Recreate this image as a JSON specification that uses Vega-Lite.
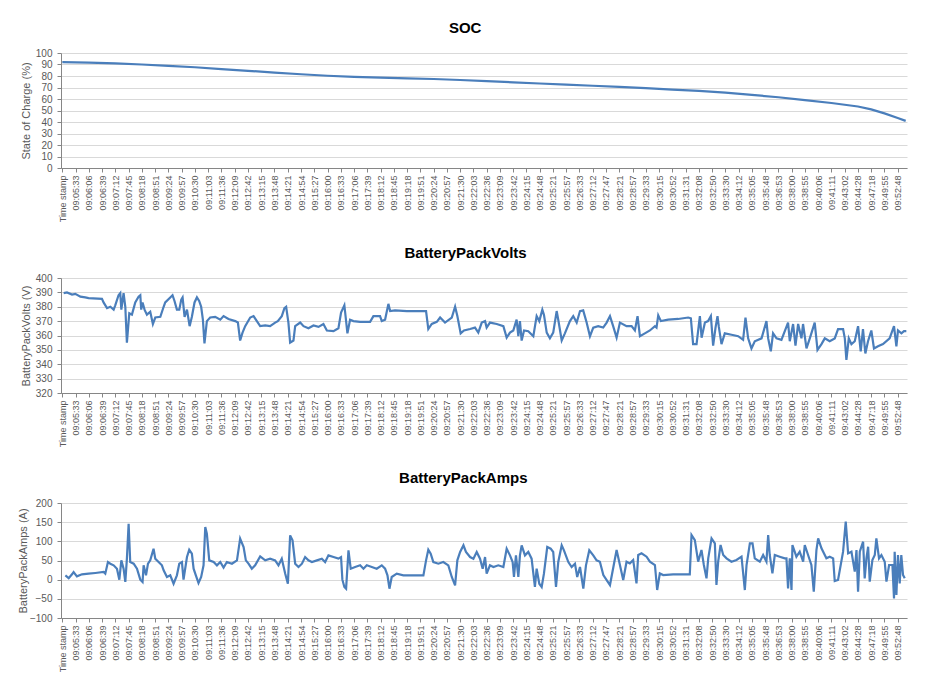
{
  "$schema": "https://vega.github.io/schema/vega-lite/v6.json",
  "background": "white",
  "padding": {"left": 17, "top": 21, "right": 10, "bottom": 5},
  "datasets": {
    "soc": [
      {"t": 0, "v": 92}, {"t": 2, "v": 91.6}, {"t": 4, "v": 91}, {"t": 6, "v": 90}, {"t": 8, "v": 88.8},
      {"t": 10, "v": 87.6}, {"t": 12, "v": 86}, {"t": 14, "v": 84.5}, {"t": 16, "v": 83}, {"t": 18, "v": 81.5},
      {"t": 20, "v": 80.2}, {"t": 22, "v": 79.3}, {"t": 24, "v": 78.6}, {"t": 26, "v": 78}, {"t": 28, "v": 77.4},
      {"t": 30, "v": 76.5}, {"t": 32, "v": 75.5}, {"t": 34, "v": 74.5}, {"t": 36, "v": 73.5}, {"t": 38, "v": 72.5},
      {"t": 40, "v": 71.5}, {"t": 42, "v": 70.5}, {"t": 44, "v": 69.5}, {"t": 46, "v": 68.2}, {"t": 48, "v": 67},
      {"t": 50, "v": 65.5}, {"t": 52, "v": 63.6}, {"t": 54, "v": 61.5}, {"t": 56, "v": 59}, {"t": 58, "v": 56.5},
      {"t": 60, "v": 53.5}, {"t": 61, "v": 51}, {"t": 62, "v": 47.5}, {"t": 63, "v": 43.5}, {"t": 63.6, "v": 41}
    ],
    "volts": [
      {"t": 0.1, "v": 389.5}, {"t": 0.35, "v": 390}, {"t": 0.73, "v": 388.5}, {"t": 0.98, "v": 389}, {"t": 1.36, "v": 387},
      {"t": 1.73, "v": 386.5}, {"t": 1.98, "v": 386}, {"t": 2.99, "v": 385.5}, {"t": 3.11, "v": 383}, {"t": 3.37, "v": 379},
      {"t": 3.62, "v": 380}, {"t": 3.87, "v": 378}, {"t": 3.99, "v": 381}, {"t": 4.24, "v": 388}, {"t": 4.37, "v": 389.5},
      {"t": 4.45, "v": 378}, {"t": 4.62, "v": 389.5}, {"t": 4.75, "v": 380}, {"t": 4.87, "v": 355}, {"t": 5.05, "v": 375.5},
      {"t": 5.25, "v": 374.5}, {"t": 5.5, "v": 383}, {"t": 5.75, "v": 387}, {"t": 5.88, "v": 388}, {"t": 5.95, "v": 378},
      {"t": 6.05, "v": 383}, {"t": 6.2, "v": 378}, {"t": 6.38, "v": 374.5}, {"t": 6.63, "v": 376.5}, {"t": 6.83, "v": 368},
      {"t": 7.01, "v": 372.5}, {"t": 7.39, "v": 373}, {"t": 7.64, "v": 380}, {"t": 7.76, "v": 383}, {"t": 8.14, "v": 386.5},
      {"t": 8.31, "v": 388}, {"t": 8.46, "v": 384}, {"t": 8.64, "v": 378}, {"t": 8.82, "v": 378}, {"t": 8.97, "v": 385},
      {"t": 9.07, "v": 386.5}, {"t": 9.22, "v": 373}, {"t": 9.4, "v": 378}, {"t": 9.6, "v": 366.5}, {"t": 9.77, "v": 373},
      {"t": 9.97, "v": 383}, {"t": 10.15, "v": 386.5}, {"t": 10.32, "v": 384}, {"t": 10.47, "v": 380}, {"t": 10.6, "v": 371},
      {"t": 10.72, "v": 354.5}, {"t": 10.9, "v": 370}, {"t": 11.15, "v": 372.5}, {"t": 11.53, "v": 373}, {"t": 11.91, "v": 371},
      {"t": 12.16, "v": 373.5}, {"t": 12.53, "v": 371.5}, {"t": 13.04, "v": 370}, {"t": 13.24, "v": 369}, {"t": 13.41, "v": 356.5},
      {"t": 13.59, "v": 362}, {"t": 13.79, "v": 366.5}, {"t": 14.17, "v": 372.5}, {"t": 14.42, "v": 373.5}, {"t": 14.67, "v": 370},
      {"t": 14.92, "v": 366.5}, {"t": 15.3, "v": 367}, {"t": 15.67, "v": 366.5}, {"t": 16.05, "v": 369}, {"t": 16.25, "v": 370},
      {"t": 16.55, "v": 373.5}, {"t": 16.75, "v": 379}, {"t": 16.88, "v": 380}, {"t": 17.05, "v": 369}, {"t": 17.18, "v": 355},
      {"t": 17.43, "v": 356.5}, {"t": 17.56, "v": 366.5}, {"t": 17.94, "v": 369}, {"t": 18.19, "v": 366.5}, {"t": 18.56, "v": 365},
      {"t": 18.94, "v": 367}, {"t": 19.32, "v": 366}, {"t": 19.69, "v": 368}, {"t": 19.95, "v": 363.5}, {"t": 20.45, "v": 363},
      {"t": 20.82, "v": 365}, {"t": 21.02, "v": 376}, {"t": 21.27, "v": 381}, {"t": 21.33, "v": 376}, {"t": 21.5, "v": 361.5},
      {"t": 21.7, "v": 371}, {"t": 21.95, "v": 370}, {"t": 22.46, "v": 369.5}, {"t": 23.21, "v": 369.5}, {"t": 23.46, "v": 373.5},
      {"t": 23.96, "v": 373.5}, {"t": 24.09, "v": 370}, {"t": 24.34, "v": 371}, {"t": 24.59, "v": 382}, {"t": 24.72, "v": 377},
      {"t": 25.09, "v": 377.5}, {"t": 25.98, "v": 377}, {"t": 27.43, "v": 377}, {"t": 27.6, "v": 364.5}, {"t": 27.86, "v": 368},
      {"t": 28.24, "v": 369.5}, {"t": 28.49, "v": 372.5}, {"t": 28.86, "v": 369}, {"t": 29.37, "v": 372.5}, {"t": 29.62, "v": 380},
      {"t": 29.79, "v": 373.5}, {"t": 30.04, "v": 361.5}, {"t": 30.29, "v": 363.5}, {"t": 30.75, "v": 364.5}, {"t": 31.12, "v": 365.5},
      {"t": 31.37, "v": 362}, {"t": 31.63, "v": 369}, {"t": 31.88, "v": 370}, {"t": 32, "v": 365.5}, {"t": 32.25, "v": 369},
      {"t": 32.76, "v": 368}, {"t": 33.26, "v": 366.5}, {"t": 33.51, "v": 358.5}, {"t": 33.76, "v": 362}, {"t": 34.01, "v": 363.5},
      {"t": 34.26, "v": 371}, {"t": 34.39, "v": 359.5}, {"t": 34.51, "v": 370}, {"t": 34.64, "v": 356.5}, {"t": 34.82, "v": 363.5},
      {"t": 35.14, "v": 363}, {"t": 35.52, "v": 359.5}, {"t": 35.77, "v": 373.5}, {"t": 35.97, "v": 370}, {"t": 36.2, "v": 378},
      {"t": 36.32, "v": 374.5}, {"t": 36.53, "v": 362}, {"t": 36.77, "v": 358}, {"t": 37.02, "v": 362}, {"t": 37.28, "v": 377},
      {"t": 37.4, "v": 371}, {"t": 37.66, "v": 356.5}, {"t": 37.9, "v": 361.5}, {"t": 38.28, "v": 370}, {"t": 38.53, "v": 373.5},
      {"t": 38.79, "v": 369}, {"t": 39.04, "v": 377}, {"t": 39.28, "v": 377.5}, {"t": 39.54, "v": 369}, {"t": 39.79, "v": 359.5},
      {"t": 40.04, "v": 365.5}, {"t": 40.41, "v": 366.5}, {"t": 40.79, "v": 365.5}, {"t": 41.05, "v": 369}, {"t": 41.3, "v": 373.5},
      {"t": 41.54, "v": 366.5}, {"t": 41.8, "v": 358.5}, {"t": 42.05, "v": 369}, {"t": 42.55, "v": 366.5}, {"t": 42.93, "v": 366.5},
      {"t": 43.18, "v": 363.5}, {"t": 43.38, "v": 373.5}, {"t": 43.56, "v": 359.5}, {"t": 43.93, "v": 361.5}, {"t": 44.31, "v": 363.5},
      {"t": 44.69, "v": 366.5}, {"t": 44.81, "v": 365.5}, {"t": 44.94, "v": 374}, {"t": 45.14, "v": 370}, {"t": 45.69, "v": 371},
      {"t": 46.44, "v": 371.5}, {"t": 47.2, "v": 372.5}, {"t": 47.4, "v": 372}, {"t": 47.57, "v": 354}, {"t": 47.83, "v": 354},
      {"t": 48.08, "v": 373.5}, {"t": 48.21, "v": 358.5}, {"t": 48.46, "v": 369}, {"t": 48.7, "v": 370}, {"t": 48.91, "v": 373.5},
      {"t": 49.08, "v": 353}, {"t": 49.26, "v": 365.5}, {"t": 49.41, "v": 373.5}, {"t": 49.51, "v": 366}, {"t": 49.71, "v": 354},
      {"t": 49.96, "v": 361.5}, {"t": 50.47, "v": 360.5}, {"t": 50.97, "v": 359.5}, {"t": 51.34, "v": 357}, {"t": 51.52, "v": 372.5},
      {"t": 51.72, "v": 358}, {"t": 51.97, "v": 351}, {"t": 52.22, "v": 356}, {"t": 52.73, "v": 358}, {"t": 53.1, "v": 370},
      {"t": 53.23, "v": 358}, {"t": 53.43, "v": 349}, {"t": 53.6, "v": 361.5}, {"t": 53.86, "v": 358}, {"t": 54.23, "v": 357},
      {"t": 54.73, "v": 369}, {"t": 54.86, "v": 356}, {"t": 55.11, "v": 368}, {"t": 55.29, "v": 353}, {"t": 55.49, "v": 368},
      {"t": 55.74, "v": 358}, {"t": 55.86, "v": 368}, {"t": 56.12, "v": 351}, {"t": 56.37, "v": 358}, {"t": 56.74, "v": 369},
      {"t": 56.95, "v": 350}, {"t": 57.25, "v": 354}, {"t": 57.5, "v": 358}, {"t": 57.87, "v": 356}, {"t": 58.25, "v": 358},
      {"t": 58.5, "v": 364.5}, {"t": 58.88, "v": 364.5}, {"t": 59.01, "v": 358}, {"t": 59.13, "v": 343}, {"t": 59.31, "v": 358},
      {"t": 59.51, "v": 354}, {"t": 59.76, "v": 356}, {"t": 60.01, "v": 366.5}, {"t": 60.21, "v": 349}, {"t": 60.38, "v": 364.5},
      {"t": 60.56, "v": 347.5}, {"t": 60.76, "v": 356}, {"t": 61.01, "v": 363.5}, {"t": 61.21, "v": 351}, {"t": 61.51, "v": 352.5},
      {"t": 61.89, "v": 354}, {"t": 62.39, "v": 358}, {"t": 62.72, "v": 366.5}, {"t": 62.9, "v": 352.5}, {"t": 63.02, "v": 363.5},
      {"t": 63.28, "v": 361.5}, {"t": 63.47, "v": 363}, {"t": 63.65, "v": 363}
    ],
    "amps": [
      {"t": 0.23, "v": 11}, {"t": 0.48, "v": 4}, {"t": 0.73, "v": 14}, {"t": 0.85, "v": 20}, {"t": 1.1, "v": 8.6},
      {"t": 1.48, "v": 14}, {"t": 1.98, "v": 15.6}, {"t": 2.49, "v": 17.4}, {"t": 3.11, "v": 20}, {"t": 3.24, "v": 15.6},
      {"t": 3.44, "v": 46}, {"t": 3.62, "v": 41.7}, {"t": 3.87, "v": 37.4}, {"t": 4.12, "v": 28.6}, {"t": 4.3, "v": 0},
      {"t": 4.45, "v": 50.4}, {"t": 4.62, "v": 28.6}, {"t": 4.75, "v": -6}, {"t": 4.87, "v": 54.8}, {"t": 5.0, "v": 146},
      {"t": 5.12, "v": 46}, {"t": 5.38, "v": 41.7}, {"t": 5.63, "v": 28.6}, {"t": 5.88, "v": 0}, {"t": 6.05, "v": -6},
      {"t": 6.13, "v": 37.4}, {"t": 6.31, "v": 11.3}, {"t": 6.46, "v": 41.7}, {"t": 6.63, "v": 50.4}, {"t": 6.88, "v": 80.8},
      {"t": 7.01, "v": 54.8}, {"t": 7.26, "v": 46}, {"t": 7.51, "v": 37.4}, {"t": 7.64, "v": 24.3}, {"t": 7.89, "v": 7},
      {"t": 8.14, "v": 11.3}, {"t": 8.39, "v": -10.5}, {"t": 8.64, "v": 11.3}, {"t": 8.82, "v": 41.7}, {"t": 9.02, "v": 46},
      {"t": 9.14, "v": 0}, {"t": 9.4, "v": 59}, {"t": 9.57, "v": 78.2}, {"t": 9.77, "v": 67.8}, {"t": 9.9, "v": 28.6},
      {"t": 10.07, "v": 11.3}, {"t": 10.27, "v": -8.7}, {"t": 10.47, "v": 7}, {"t": 10.65, "v": 37.4}, {"t": 10.78, "v": 137.4},
      {"t": 10.9, "v": 120}, {"t": 11.08, "v": 50.4}, {"t": 11.41, "v": 46}, {"t": 11.66, "v": 37.4}, {"t": 11.91, "v": 46},
      {"t": 12.16, "v": 31.3}, {"t": 12.41, "v": 46}, {"t": 12.79, "v": 41.7}, {"t": 13.17, "v": 50.4}, {"t": 13.41, "v": 107},
      {"t": 13.67, "v": 85.2}, {"t": 13.84, "v": 50.4}, {"t": 14.04, "v": 41.7}, {"t": 14.29, "v": 28.6}, {"t": 14.54, "v": 37.4},
      {"t": 14.92, "v": 60.8}, {"t": 15.3, "v": 50.4}, {"t": 15.67, "v": 54.8}, {"t": 16.05, "v": 50.4}, {"t": 16.3, "v": 37.4},
      {"t": 16.55, "v": 54.8}, {"t": 16.81, "v": 15.6}, {"t": 17.01, "v": -10.5}, {"t": 17.18, "v": 115.6}, {"t": 17.36, "v": 102.6},
      {"t": 17.56, "v": 41.7}, {"t": 17.81, "v": 33}, {"t": 18.07, "v": 41.7}, {"t": 18.31, "v": 59}, {"t": 18.56, "v": 50.4},
      {"t": 18.82, "v": 46}, {"t": 19.2, "v": 50.4}, {"t": 19.57, "v": 54.8}, {"t": 19.82, "v": 46}, {"t": 20.07, "v": 63.4},
      {"t": 20.45, "v": 59}, {"t": 20.82, "v": 54.8}, {"t": 21.02, "v": 59}, {"t": 21.12, "v": 0}, {"t": 21.27, "v": -19},
      {"t": 21.4, "v": -23.5}, {"t": 21.58, "v": 76.5}, {"t": 21.75, "v": 28.6}, {"t": 22.08, "v": 33}, {"t": 22.46, "v": 37.4},
      {"t": 22.71, "v": 28.6}, {"t": 22.96, "v": 37.4}, {"t": 23.34, "v": 33}, {"t": 23.71, "v": 28.6}, {"t": 24.09, "v": 37.4},
      {"t": 24.34, "v": 28.6}, {"t": 24.52, "v": 11.3}, {"t": 24.67, "v": -23.5}, {"t": 24.84, "v": 7}, {"t": 25.22, "v": 15.6},
      {"t": 25.72, "v": 11.3}, {"t": 27.23, "v": 11.3}, {"t": 27.43, "v": 50.4}, {"t": 27.6, "v": 78.2}, {"t": 27.78, "v": 67.8},
      {"t": 27.98, "v": 46}, {"t": 28.36, "v": 41.7}, {"t": 28.73, "v": 46}, {"t": 29.11, "v": 37.4}, {"t": 29.37, "v": 7},
      {"t": 29.62, "v": -15}, {"t": 29.79, "v": 50.4}, {"t": 30.0, "v": 72.2}, {"t": 30.25, "v": 89.5}, {"t": 30.44, "v": 72.2},
      {"t": 30.75, "v": 59}, {"t": 31.0, "v": 54.8}, {"t": 31.25, "v": 72.2}, {"t": 31.5, "v": 54.8}, {"t": 31.7, "v": 28.6},
      {"t": 31.88, "v": 59}, {"t": 32.0, "v": 15.6}, {"t": 32.25, "v": 37.4}, {"t": 32.51, "v": 33}, {"t": 32.88, "v": 37.4},
      {"t": 33.26, "v": 33}, {"t": 33.51, "v": 80.8}, {"t": 33.76, "v": 63.4}, {"t": 33.96, "v": 46}, {"t": 34.06, "v": 7},
      {"t": 34.21, "v": 63.4}, {"t": 34.39, "v": 7}, {"t": 34.51, "v": 63.4}, {"t": 34.64, "v": 89.5}, {"t": 34.89, "v": 63.4},
      {"t": 35.14, "v": 72.2}, {"t": 35.39, "v": 54.8}, {"t": 35.64, "v": -19}, {"t": 35.77, "v": 28.6}, {"t": 35.97, "v": -10.5},
      {"t": 36.15, "v": -19}, {"t": 36.32, "v": 15.6}, {"t": 36.57, "v": 85.2}, {"t": 36.83, "v": 80.8}, {"t": 37.02, "v": 72.2},
      {"t": 37.23, "v": -19}, {"t": 37.4, "v": 46}, {"t": 37.66, "v": 89.5}, {"t": 37.83, "v": 76.5}, {"t": 38.16, "v": 46},
      {"t": 38.41, "v": 33}, {"t": 38.66, "v": 41.7}, {"t": 38.83, "v": 7}, {"t": 39.04, "v": 33}, {"t": 39.29, "v": -23.5},
      {"t": 39.49, "v": 37.4}, {"t": 39.74, "v": 76.5}, {"t": 40.04, "v": 63.4}, {"t": 40.29, "v": 50.4}, {"t": 40.54, "v": 46.9},
      {"t": 40.8, "v": 12.1}, {"t": 41.3, "v": -14}, {"t": 41.8, "v": 77.3}, {"t": 42.05, "v": 38.2}, {"t": 42.3, "v": -0.9},
      {"t": 42.55, "v": 46.9}, {"t": 42.8, "v": 42.5}, {"t": 43.05, "v": 51.2}, {"t": 43.3, "v": -9.6}, {"t": 43.43, "v": 64.3},
      {"t": 43.68, "v": 68.6}, {"t": 44.06, "v": 59.9}, {"t": 44.31, "v": 46.9}, {"t": 44.69, "v": 38.2}, {"t": 44.86, "v": -27},
      {"t": 45.06, "v": 16.5}, {"t": 45.31, "v": 12.1}, {"t": 46.06, "v": 13.9}, {"t": 47.32, "v": 13.9}, {"t": 47.45, "v": 116.5},
      {"t": 47.7, "v": 103.4}, {"t": 47.95, "v": 46.9}, {"t": 48.2, "v": 77.3}, {"t": 48.38, "v": 38.2}, {"t": 48.58, "v": 3.4},
      {"t": 48.71, "v": 55.6}, {"t": 48.96, "v": 107.8}, {"t": 49.21, "v": 94.7}, {"t": 49.33, "v": -14}, {"t": 49.46, "v": 46.9},
      {"t": 49.64, "v": 90.4}, {"t": 49.84, "v": 64.3}, {"t": 50.09, "v": 55.6}, {"t": 50.46, "v": 46.9}, {"t": 50.84, "v": 51.2},
      {"t": 51.22, "v": 59.9}, {"t": 51.47, "v": -27}, {"t": 51.6, "v": 38.2}, {"t": 51.85, "v": 94.7}, {"t": 52.05, "v": 94.7},
      {"t": 52.22, "v": 55.6}, {"t": 52.6, "v": 46.9}, {"t": 52.85, "v": 64.3}, {"t": 53.1, "v": 46.9}, {"t": 53.23, "v": 116.5},
      {"t": 53.35, "v": 64.3}, {"t": 53.55, "v": 16.5}, {"t": 53.73, "v": 64.3}, {"t": 54.1, "v": 59.9}, {"t": 54.48, "v": 55.6},
      {"t": 54.61, "v": 55.6}, {"t": 54.73, "v": -22.7}, {"t": 54.86, "v": 55.6}, {"t": 54.99, "v": -27}, {"t": 55.06, "v": 90.4},
      {"t": 55.36, "v": 59.9}, {"t": 55.61, "v": 73}, {"t": 55.87, "v": 46.9}, {"t": 55.99, "v": 90.4}, {"t": 56.24, "v": 64.3},
      {"t": 56.49, "v": 38.2}, {"t": 56.67, "v": -31.4}, {"t": 56.87, "v": 77.3}, {"t": 57.0, "v": 107.8}, {"t": 57.25, "v": 81.7},
      {"t": 57.62, "v": 55.6}, {"t": 57.87, "v": 59.9}, {"t": 58.13, "v": 55.6}, {"t": 58.25, "v": -3.5}, {"t": 58.5, "v": -0.9},
      {"t": 58.88, "v": 73}, {"t": 59.08, "v": 151.3}, {"t": 59.26, "v": 68.6}, {"t": 59.51, "v": 73}, {"t": 59.76, "v": 20.8},
      {"t": 59.89, "v": 77.3}, {"t": 60.01, "v": -31.4}, {"t": 60.14, "v": 73}, {"t": 60.39, "v": 99.1}, {"t": 60.51, "v": 3.4},
      {"t": 60.64, "v": 55.6}, {"t": 60.77, "v": 86}, {"t": 60.89, "v": -5.3}, {"t": 61.09, "v": 51.2}, {"t": 61.27, "v": 64.3},
      {"t": 61.39, "v": 107.8}, {"t": 61.59, "v": 55.6}, {"t": 61.77, "v": 64.3}, {"t": 62.02, "v": 46.9}, {"t": 62.15, "v": -5.3},
      {"t": 62.35, "v": 38.2}, {"t": 62.6, "v": 38.2}, {"t": 62.72, "v": -48.8}, {"t": 62.77, "v": 73}, {"t": 62.9, "v": -40.1},
      {"t": 63.02, "v": 64.3}, {"t": 63.15, "v": -9.6}, {"t": 63.27, "v": 64.3}, {"t": 63.4, "v": 12.1}, {"t": 63.53, "v": 3.4}
    ]
  },
  "bounds": "flush",
  "spacing": 110,
  "vconcat": [
    {
      "data": {"name": "soc"},
      "title": "SOC",
      "width": 846,
      "height": 115,
      "mark": {"type": "line", "color": "#4A7EBB", "strokeWidth": 2.2},
      "encoding": {
        "x": {
          "field": "t", "type": "quantitative", "title": null,
          "scale": {"domain": [-0.1, 63.7], "nice": false, "zero": false},
          "axis": {
            "values": [0,1,2,3,4,5,6,7,8,9,10,11,12,13,14,15,16,17,18,19,20,21,22,23,24,25,26,27,28,29,30,31,32,33,34,35,36,37,38,39,40,41,42,43,44,45,46,47,48,49,50,51,52,53,54,55,56,57,58,59,60,61,62,63],
            "labelExpr": "['Time stamp','09:05:33','09:06:06','09:06:39','09:07:12','09:07:45','09:08:18','09:08:51','09:09:24','09:09:57','09:10:30','09:11:03','09:11:36','09:12:09','09:12:42','09:13:15','09:13:48','09:14:21','09:14:54','09:15:27','09:16:00','09:16:33','09:17:06','09:17:39','09:18:12','09:18:45','09:19:18','09:19:51','09:20:24','09:20:57','09:21:30','09:22:03','09:22:36','09:23:09','09:23:42','09:24:15','09:24:48','09:25:21','09:25:57','09:26:33','09:27:12','09:27:47','09:28:21','09:28:57','09:29:33','09:30:15','09:30:52','09:31:31','09:32:08','09:32:50','09:33:30','09:34:12','09:35:05','09:35:48','09:36:53','09:38:00','09:38:55','09:40:06','09:41:11','09:43:02','09:44:28','09:47:18','09:49:55','09:52:48'][datum.value]"
          }
        },
        "y": {
          "field": "v", "type": "quantitative", "title": "State of Charge (%)",
          "scale": {"domain": [0, 100], "nice": false},
          "axis": {"values": [0,10,20,30,40,50,60,70,80,90,100], "titlePadding": 4}
        }
      }
    },
    {
      "data": {"name": "volts"},
      "title": "BatteryPackVolts",
      "width": 846,
      "height": 115,
      "mark": {"type": "line", "color": "#4A7EBB", "strokeWidth": 2.2},
      "encoding": {
        "x": {
          "field": "t", "type": "quantitative", "title": null,
          "scale": {"domain": [-0.1, 63.7], "nice": false, "zero": false},
          "axis": {
            "values": [0,1,2,3,4,5,6,7,8,9,10,11,12,13,14,15,16,17,18,19,20,21,22,23,24,25,26,27,28,29,30,31,32,33,34,35,36,37,38,39,40,41,42,43,44,45,46,47,48,49,50,51,52,53,54,55,56,57,58,59,60,61,62,63],
            "labelExpr": "['Time stamp','09:05:33','09:06:06','09:06:39','09:07:12','09:07:45','09:08:18','09:08:51','09:09:24','09:09:57','09:10:30','09:11:03','09:11:36','09:12:09','09:12:42','09:13:15','09:13:48','09:14:21','09:14:54','09:15:27','09:16:00','09:16:33','09:17:06','09:17:39','09:18:12','09:18:45','09:19:18','09:19:51','09:20:24','09:20:57','09:21:30','09:22:03','09:22:36','09:23:09','09:23:42','09:24:15','09:24:48','09:25:21','09:25:57','09:26:33','09:27:12','09:27:47','09:28:21','09:28:57','09:29:33','09:30:15','09:30:52','09:31:31','09:32:08','09:32:50','09:33:30','09:34:12','09:35:05','09:35:48','09:36:53','09:38:00','09:38:55','09:40:06','09:41:11','09:43:02','09:44:28','09:47:18','09:49:55','09:52:48'][datum.value]"
          }
        },
        "y": {
          "field": "v", "type": "quantitative", "title": "BatteryPackVolts (V)",
          "scale": {"domain": [320, 400], "nice": false, "zero": false},
          "axis": {"values": [320,330,340,350,360,370,380,390,400], "titlePadding": 4}
        }
      }
    },
    {
      "data": {"name": "amps"},
      "title": "BatteryPackAmps",
      "width": 846,
      "height": 115,
      "mark": {"type": "line", "color": "#4A7EBB", "strokeWidth": 2.2},
      "encoding": {
        "x": {
          "field": "t", "type": "quantitative", "title": null,
          "scale": {"domain": [-0.1, 63.7], "nice": false, "zero": false},
          "axis": {
            "values": [0,1,2,3,4,5,6,7,8,9,10,11,12,13,14,15,16,17,18,19,20,21,22,23,24,25,26,27,28,29,30,31,32,33,34,35,36,37,38,39,40,41,42,43,44,45,46,47,48,49,50,51,52,53,54,55,56,57,58,59,60,61,62,63],
            "labelExpr": "['Time stamp','09:05:33','09:06:06','09:06:39','09:07:12','09:07:45','09:08:18','09:08:51','09:09:24','09:09:57','09:10:30','09:11:03','09:11:36','09:12:09','09:12:42','09:13:15','09:13:48','09:14:21','09:14:54','09:15:27','09:16:00','09:16:33','09:17:06','09:17:39','09:18:12','09:18:45','09:19:18','09:19:51','09:20:24','09:20:57','09:21:30','09:22:03','09:22:36','09:23:09','09:23:42','09:24:15','09:24:48','09:25:21','09:25:57','09:26:33','09:27:12','09:27:47','09:28:21','09:28:57','09:29:33','09:30:15','09:30:52','09:31:31','09:32:08','09:32:50','09:33:30','09:34:12','09:35:05','09:35:48','09:36:53','09:38:00','09:38:55','09:40:06','09:41:11','09:43:02','09:44:28','09:47:18','09:49:55','09:52:48'][datum.value]"
          }
        },
        "y": {
          "field": "v", "type": "quantitative", "title": "BatteryPackAmps (A)",
          "scale": {"domain": [-100, 200], "nice": false, "zero": false},
          "axis": {"values": [-100,-50,0,50,100,150,200], "titlePadding": 1}
        }
      }
    }
  ],
  "config": {
    "font": "Liberation Sans",
    "view": {"stroke": null},
    "title": {"fontSize": 15, "fontWeight": "bold", "color": "#000000", "anchor": "middle", "frame": "bounds", "offset": 12},
    "axis": {
      "labelColor": "#595959", "titleColor": "#595959", "titleFontWeight": "normal", "titleFontSize": 11,
      "domainColor": "#868686", "tickColor": "#868686", "gridColor": "#d9d9d9", "gridWidth": 1
    },
    "axisX": {
      "grid": false, "tickSize": 4, "labelAngle": 270, "labelAlign": "right", "labelBaseline": "middle",
      "labelFontSize": 9, "labelPadding": 3, "labelOverlap": false, "labelFlush": false, "labelBound": false
    },
    "axisY": {
      "grid": true, "tickSize": 4, "labelFontSize": 10, "labelPadding": 5, "labelOverlap": false, "labelFlush": false
    }
  }
}
